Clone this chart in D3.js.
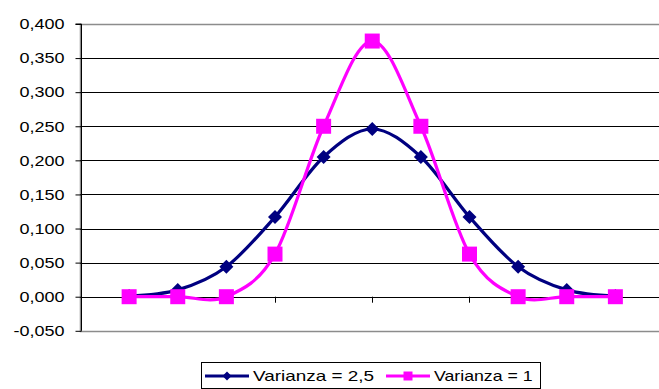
<!DOCTYPE html>
<html>
<head>
<meta charset="utf-8">
<script src="https://cdn.jsdelivr.net/npm/d3@7"></script>
<style>
  body { margin: 0; background: #fff; }
  text { font-family: "Liberation Sans", Arial, sans-serif; }
</style>
</head>
<body>
<script>
// k = 0..10
var categories = ["0", "1", "2", "3", "4", "5", "6", "7", "8", "9", "10"];
var varianza25 = [0.001, 0.010, 0.044, 0.117, 0.205, 0.246, 0.205, 0.117, 0.044, 0.010, 0.001];
var varianza1 = [0, 0, 0, 0.0625, 0.250, 0.375, 0.250, 0.0625, 0, 0, 0];
var seriesNames = ["Varianza = 2,5", "Varianza = 1"];
var yTicks = [-0.05, 0, 0.05, 0.10, 0.15, 0.20, 0.25, 0.30, 0.35, 0.40];

var width = 659, height = 389;
var stretch = 1.2;

var svg = d3.select("body")
    .append("svg")
    .attr("width", width)
    .attr("height", height);

// category axis sits "on tick marks" with one empty slot each side
var x = d3.scaleLinear()
    .domain([-1, categories.length])
    .range([80.5, 664]);

var y = d3.scaleLinear()
    .domain([-0.05, 0.4])
    .range([330.8, 24]);

var fmt = function(v) { return d3.format(".3f")(v).replace("−", "-").replace(".", ","); };

// plot area border (grey)
svg.append("rect")
    .attr("x", x(-1))
    .attr("y", Math.round(y(0.4)) + 0.5)
    .attr("width", x(categories.length) - x(-1) + 5)
    .attr("height", Math.round(y(-0.05)) - Math.round(y(0.4)))
    .attr("fill", "none")
    .attr("stroke", "#8c8c8c")
    .attr("stroke-width", 1.5);

// gridlines
svg.selectAll(".grid")
    .data(yTicks.filter(function(d) { return d > -0.04 && d < 0.39; }))
    .enter()
    .append("line")
    .attr("class", "grid")
    .attr("x1", x(-1))
    .attr("x2", width)
    .attr("y1", function(d) { return Math.round(y(d)) + 0.5; })
    .attr("y2", function(d) { return Math.round(y(d)) + 0.5; })
    .attr("stroke", "#000")
    .attr("stroke-width", 1.2);

// y axis
var yAxis = d3.axisLeft(y)
    .tickValues(yTicks)
    .tickSize(6)
    .tickPadding(11)
    .tickFormat(fmt);

var gy = svg.append("g")
    .attr("transform", "translate(" + (Math.round(x(-1)) + 0.5) + ",0)")
    .call(yAxis);
gy.select(".domain").attr("stroke", "#000").attr("d", "M-6," + y(0.4) + "H0V" + y(-0.05));
gy.selectAll(".tick line").attr("stroke", "#000");
gy.selectAll(".tick text")
    .attr("font-size", 15)
    .attr("fill", "#000")
    .attr("font-family", "Liberation Sans, Arial, sans-serif");

// widen the tick text a bit, the original font is stretched horizontally
gy.selectAll(".tick text").each(function() {
    var w = this.getComputedTextLength();
    d3.select(this)
        .attr("textLength", w * stretch)
        .attr("lengthAdjust", "spacingAndGlyphs");
});

// x axis ticks at the zero line, every second category
var xTicks = d3.range(-1, categories.length + 1, 2);
svg.selectAll(".xtick")
    .data(xTicks)
    .enter()
    .append("line")
    .attr("class", "xtick")
    .attr("x1", function(d) { return Math.round(x(d)) + 0.5; })
    .attr("x2", function(d) { return Math.round(x(d)) + 0.5; })
    .attr("y1", y(0))
    .attr("y2", y(0) + 6)
    .attr("stroke", "#000");

// series
var series = [
    { name: seriesNames[0], values: varianza25, color: "#000080", marker: "diamond" },
    { name: seriesNames[1], values: varianza1, color: "#ff00ff", marker: "square" }
];

var line = d3.line()
    .x(function(d, i) { return x(i); })
    .y(function(d) { return y(d); })
    .curve(d3.curveCardinal.tension(0));

function markerPath(type, r) {
    if (type == "diamond") {
        return "M0," + (-r) + "L" + r + ",0L0," + r + "L" + (-r) + ",0Z";
    }
    return "M" + (-r) + "," + (-r) + "H" + r + "V" + r + "H" + (-r) + "Z";
}

series.forEach(function(s) {
    svg.append("path")
        .datum(s.values)
        .attr("d", line)
        .attr("fill", "none")
        .attr("stroke", s.color)
        .attr("stroke-width", 3.2);

    svg.selectAll(".m-" + s.marker)
        .data(s.values)
        .enter()
        .append("path")
        .attr("class", "m-" + s.marker)
        .attr("transform", function(d, i) { return "translate(" + x(i) + "," + y(d) + ")"; })
        .attr("d", markerPath(s.marker, s.marker == "diamond" ? 7 : 7.5))
        .attr("fill", s.color);
});

// legend
var legend = svg.append("g");
var boxX = 201.5, boxW = 339;
legend.append("rect")
    .attr("x", boxX)
    .attr("y", 362.5)
    .attr("width", boxW)
    .attr("height", 26)
    .attr("fill", "#fff")
    .attr("stroke", "#000");

var legendX = [205, 386, boxX + boxW + 4];
series.forEach(function(s, i) {
    var lx = legendX[i];
    var ly = 376;
    legend.append("line")
        .attr("x1", lx)
        .attr("x2", lx + 44)
        .attr("y1", ly)
        .attr("y2", ly)
        .attr("stroke", s.color)
        .attr("stroke-width", 3);
    legend.append("path")
        .attr("transform", "translate(" + (lx + 22) + "," + ly + ")")
        .attr("d", markerPath(s.marker, 4.5))
        .attr("fill", s.color);
    legend.append("text")
        .attr("x", lx + 48)
        .attr("y", ly)
        .attr("dy", "0.36em")
        .attr("font-size", 15)
        .attr("fill", "#000")
        .attr("textLength", legendX[i + 1] - lx - 48 - 12)
        .attr("lengthAdjust", "spacingAndGlyphs")
        .text(s.name);
});
</script>
</body>
</html>
